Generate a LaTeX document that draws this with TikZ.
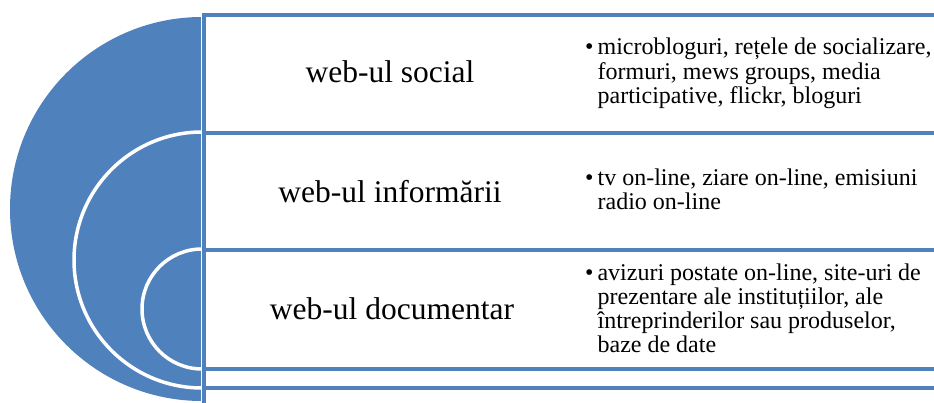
\documentclass[tikz,border=0pt]{standalone}
\usepackage{fontspec}
\setmainfont{Liberation Serif}
\definecolor{sablue}{HTML}{4F81BD}
\begin{document}
\begin{tikzpicture}[x=1pt,y=1pt,
  band/.style={draw=sablue, line width=4pt},
  ring/.style={fill=sablue, draw=white, line width=3.5pt},
  lefttext/.style={font=\fontsize{31.5}{36}\selectfont, anchor=base, inner sep=0pt},
  righttext/.style={font=\fontsize{24}{24}\selectfont, anchor=base west, inner sep=0pt}]
\useasboundingbox (0,0) rectangle (934,403);
\fill[white] (0,0) rectangle (934,403);
% nested semicircles
\fill[sablue] (202,386) arc[start angle=90,end angle=270,radius=192] -- cycle;
\filldraw[ring] (202,271) arc[start angle=90,end angle=270,radius=128];
\filldraw[ring] (202,154) arc[start angle=90,end angle=270,radius=60];
\draw[white, line width=1pt] (201.5,388) -- (201.5,0);
% vertical bar
\draw[band] (204,390) -- (204,0);
% horizontal band lines
\foreach \yy in {388,270,153,34,15}
  \draw[band] (202,\yy) -- (934,\yy);
% left labels
\node[lefttext] (l1) at (390,320) {web-ul social};
\node[lefttext] (l2) at (390,200) {web-ul informării};
\node[lefttext] (l3) at (392,83) {web-ul documentar};
% right bullet texts
\node[righttext] (r1) at (585,348) {\begin{tabular}[t]{@{}l@{\hspace{4pt}}l@{}}\textbullet & microbloguri, rețele de socializare,\\ & formuri, mews groups, media\\ & participative, flickr, bloguri\end{tabular}};
\node[righttext] (r2) at (585,217) {\begin{tabular}[t]{@{}l@{\hspace{4pt}}l@{}}\textbullet & tv on-line, ziare on-line, emisiuni\\ & radio on-line\end{tabular}};
\node[righttext] (r3) at (585,122) {\begin{tabular}[t]{@{}l@{\hspace{4pt}}l@{}}\textbullet & avizuri postate on-line, site-uri de\\ & prezentare ale instituțiilor, ale\\ & întreprinderilor sau produselor,\\ & baze de date\end{tabular}};
\end{tikzpicture}
\end{document}
